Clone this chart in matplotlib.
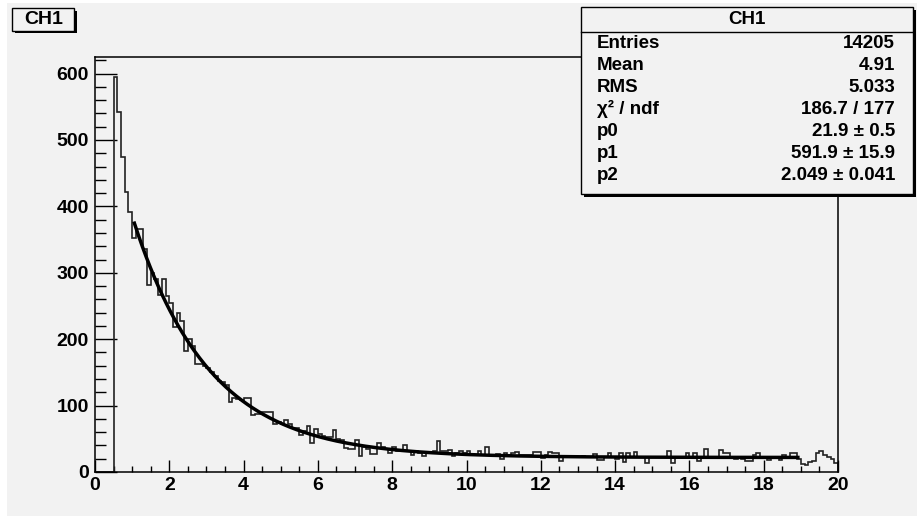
import numpy as np
import matplotlib
matplotlib.use("Agg")
import matplotlib.pyplot as plt
from matplotlib.patches import Rectangle
from matplotlib.ticker import MultipleLocator

# ---------------- data ----------------
bin_edges = np.round(np.arange(0, 20.0001, 0.1), 1)
counts = [
    0, 0, 0, 0, 0,
    595, 542, 474, 421, 391,
    353, 366, 366, 336, 281, 300, 291, 267, 290, 265,
    255, 219, 240, 227, 182, 200, 190, 163, 163, 160,
    156, 151, 145, 137, 136, 131, 105, 112, 110, 108,
    112, 112, 86, 88, 88, 90, 91, 91, 73, 76,
    72, 79, 73, 66, 66, 56, 62, 70, 44, 65,
    57, 54, 53, 52, 63, 49, 48, 36, 34, 34,
    48, 24, 37, 35, 27, 27, 43, 38, 34, 28,
    37, 31, 31, 41, 32, 26, 31, 29, 24, 28,
    28, 32, 46, 31, 32, 33, 24, 28, 32, 28,
    32, 27, 26, 31, 26, 38, 25, 26, 27, 20,
    28, 25, 28, 30, 25, 25, 25, 25, 30, 30,
    21, 25, 30, 28, 28, 17, 23, 23, 23, 22,
    23, 24, 23, 22, 27, 18, 18, 23, 28, 23,
    20, 28, 15, 28, 23, 30, 23, 23, 14, 23,
    23, 22, 22, 22, 31, 14, 22, 22, 21, 28,
    21, 28, 17, 21, 35, 22, 21, 22, 33, 28,
    28, 21, 20, 21, 20, 17, 17, 26, 28, 21,
    22, 18, 21, 22, 18, 26, 22, 28, 28, 20,
    12, 10, 15, 16, 28, 31, 26, 23, 20, 14,
]
fit_p0, fit_p1, fit_p2 = 21.9, 591.9, 2.049
fit_range = (1.06, 18.92)

title = "CH1"
stat_labels = ["Entries", "Mean", "RMS", "χ² / ndf", "p0", "p1", "p2"]
stat_values = ["14205", "4.91", "5.033", "186.7 / 177",
               "21.9 ± 0.5", "591.9 ± 15.9", "2.049 ± 0.041"]

# ---------------- figure ----------------
W, H = 920, 519
plt.rcParams['font.family'] = ['Liberation Sans', 'DejaVu Sans']
plt.rcParams['font.weight'] = 'bold'

BG = '#f2f2f2'
fig = plt.figure(figsize=(W / 100, H / 100), dpi=100, facecolor='white')

def fx(px):
    return px / W

def fy(py):
    return 1 - py / H

# canvas grey area
fig.patches.append(Rectangle((fx(7), fy(516)), fx(917) - fx(7), fy(3) - fy(516),
                             transform=fig.transFigure, facecolor=BG,
                             edgecolor='none', zorder=-10))

ax = fig.add_axes([fx(95), fy(472), fx(838) - fx(95), fy(57) - fy(472)])
ax.set_facecolor(BG)

ax.stairs(counts, bin_edges, baseline=0, color='#222222', linewidth=1.2, zorder=2)

xf = np.linspace(fit_range[0], fit_range[1], 500)
yf = fit_p0 + fit_p1 * np.exp(-xf / fit_p2)
ax.plot(xf, yf, color='black', linewidth=2.5, zorder=3)

ax.set_xlim(0, 20)
ax.set_ylim(0, 625)
ax.xaxis.set_major_locator(MultipleLocator(2))
ax.xaxis.set_minor_locator(MultipleLocator(0.5))
ax.yaxis.set_major_locator(MultipleLocator(100))
ax.yaxis.set_minor_locator(MultipleLocator(20))
ax.tick_params(axis='x', which='major', direction='in', length=8.6, width=1.0,
               labelsize=14, pad=3.5, top=False)
ax.tick_params(axis='x', which='minor', direction='in', length=4.3, width=1.0, top=False)
ax.tick_params(axis='y', which='major', direction='in', length=15.8, width=1.0,
               labelsize=14, pad=4.5, right=False)
ax.tick_params(axis='y', which='minor', direction='in', length=7.9, width=1.0, right=False)
for lab in ax.get_xticklabels() + ax.get_yticklabels():
    lab.set_fontweight('bold')
for s in ax.spines.values():
    s.set_linewidth(1.1)
    s.set_color('black')

# ---------------- title box ----------------
def shadow_box(x0, y0, x1, y1, sh=2.5, lw=1.0):
    fig.patches.append(Rectangle((fx(x0 + sh), fy(y1 + sh)), fx(x1 - x0), fy(y0) - fy(y1),
                                 transform=fig.transFigure, facecolor='black',
                                 edgecolor='none', zorder=5))
    fig.patches.append(Rectangle((fx(x0), fy(y1)), fx(x1 - x0), fy(y0) - fy(y1),
                                 transform=fig.transFigure, facecolor=BG,
                                 edgecolor='black', linewidth=lw, zorder=6))

shadow_box(12.3, 8.3, 74.3, 30.7)
fig.text(fx(43.3), fy(19.5), title, ha='center', va='center', fontsize=14,
         fontweight='bold', zorder=7)

# ---------------- stats box ----------------
shadow_box(581, 7.3, 913.3, 194, sh=3)
fig.lines.append(plt.Line2D([fx(581), fx(913.3)], [fy(31.7), fy(31.7)],
                            transform=fig.transFigure, color='black',
                            linewidth=1.0, zorder=7))
fig.text(fx(747), fy(19.5), title, ha='center', va='center', fontsize=13.5,
         fontweight='bold', zorder=7)
row_y = [44, 66, 88, 109, 131, 153, 176]
for lab, val, yy in zip(stat_labels, stat_values, row_y):
    fig.text(fx(597), fy(yy), lab, ha='left', va='center', fontsize=13.5,
             fontweight='bold', zorder=7)
    fig.text(fx(895), fy(yy), val, ha='right', va='center', fontsize=13.5,
             fontweight='bold', zorder=7)

fig.savefig('out.png', dpi=100, facecolor=fig.get_facecolor())
